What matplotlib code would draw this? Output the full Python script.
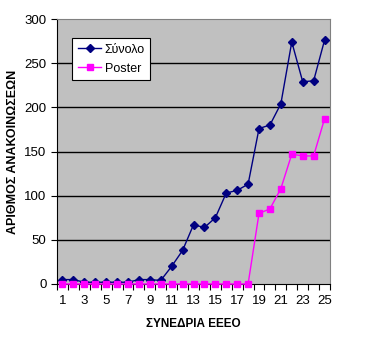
import matplotlib
matplotlib.use("Agg")
import matplotlib.pyplot as plt
import numpy as np

plt.rcParams['font.family'] = ['Liberation Sans', 'DejaVu Sans']

# data
sessions = list(range(1, 26))
synolo = [5, 5, 2, 2, 2, 2, 2, 5, 5, 4, 20, 38, 67, 64, 75, 103, 106, 113,
          176, 180, 204, 274, 229, 230, 276]
poster = [0]*18 + [80, 85, 108, 147, 145, 145, 187]

fig = plt.figure(figsize=(3.76, 3.44), dpi=100)
ax = fig.add_axes([57/376, 1-284/344, 273/376, 265/344])
ax.set_facecolor('#C0C0C0')

ax.plot(sessions, synolo, color='#000080', marker='D', markersize=4, linewidth=1, label='Σύνολο', clip_on=False, zorder=3)
ax.plot(sessions, poster, color='#FF00FF', marker='s', markersize=5, linewidth=1, label='Poster', clip_on=False, zorder=3)

ax.set_xlim(0.5, 25.5)
ax.set_ylim(0, 300)
ax.set_yticks(range(0, 301, 50))
ax.set_xticks(np.arange(0.5, 25.6, 1))
ax.set_xticklabels([])
ax.set_xticks(range(1, 26, 2), minor=True)
ax.set_xticklabels([str(s) for s in range(1, 26, 2)], minor=True)
ax.tick_params(axis='x', which='major', length=4, direction='out', color='black')
ax.tick_params(axis='x', which='minor', length=0, pad=8, labelsize=9.5)
ax.tick_params(axis='y', length=4, direction='out', labelsize=9.5)

for y in range(50, 300, 50):
    ax.axhline(y, color='black', linewidth=1, zorder=1)

for side in ['top', 'right']:
    ax.spines[side].set_color('#808080')
ax.spines['left'].set_color('black')
ax.spines['bottom'].set_color('black')

ax.set_ylabel('ΑΡΙΘΜΟΣ ΑΝΑΚΟΙΝΩΣΕΩΝ', fontsize=9, fontweight='bold')
ax.yaxis.set_label_coords(-0.139, 0.5)
ax.set_xlabel('ΣΥΝΕΔΡΙΑ ΕΕΕΟ', fontsize=8.5, fontweight='bold', labelpad=8)

leg = ax.legend(loc='upper left', bbox_to_anchor=(15/273, 1-19/265), borderaxespad=0,
                fancybox=False, framealpha=1, edgecolor='black', fontsize=9,
                handlelength=1.9, borderpad=0.45, labelspacing=0.55, handletextpad=0.25)
leg.get_frame().set_linewidth(0.8)

fig.savefig('out.png', dpi=100)
